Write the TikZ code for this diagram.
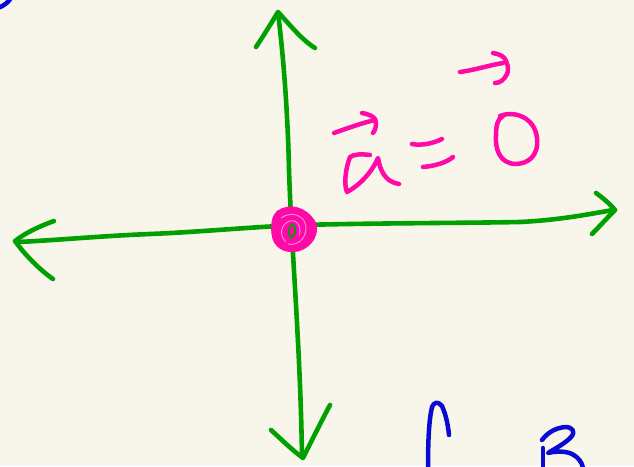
\documentclass[tikz,border=0pt]{standalone}
\definecolor{paper}{HTML}{F8F6EA}
\definecolor{pen green}{HTML}{00A000}
\definecolor{pen pink}{HTML}{FF0AA8}
\definecolor{pen blue}{HTML}{0A0AD2}
\tikzset{
  greenstroke/.style={draw=pen green,line width=4.6pt,line cap=round,line join=round},
  pinkstroke/.style={draw=pen pink,line width=4.5pt,line cap=round,line join=round},
  bluestroke/.style={draw=pen blue,line width=4.5pt,line cap=round,line join=round}
}
\begin{document}
\begin{tikzpicture}[x=1pt,y=-1pt]
\fill[paper] (0,0) rectangle (634,466);
\useasboundingbox (0,0) rectangle (634,466);
% vertical axis
\draw[greenstroke] (278,13) .. controls (284,60) and (288,120) .. (289,170) .. controls (292,260) and (300,340) .. (302,455);
\draw[greenstroke] (256,47) .. controls (264,35) and (272,22) .. (278,12) .. controls (290,25) and (302,40) .. (315,48);
\draw[greenstroke] (271,430) .. controls (282,440) and (292,450) .. (303,458) .. controls (312,440) and (322,420) .. (330,405);
% horizontal axis
\draw[greenstroke] (18,242) .. controls (60,240) and (100,236) .. (150,234) .. controls (200,232) and (250,227) .. (300,225) .. controls (380,223) and (470,223) .. (520,222) .. controls (560,220) and (590,214) .. (613,210);
\draw[greenstroke] (54,221) .. controls (40,226) and (25,233) .. (15,241) .. controls (25,255) and (40,270) .. (53,279);
\draw[greenstroke] (596,193) .. controls (603,198) and (610,204) .. (615,210) .. controls (607,218) and (598,228) .. (592,234);
% origin scribble
\filldraw[pen pink,line width=3pt,line join=round] (278,212) .. controls (290,204) and (305,208) .. (314,222) .. controls (319,232) and (312,246) .. (298,250) .. controls (285,253) and (274,246) .. (273,234) .. controls (272,225) and (273,216) .. (278,212) -- cycle;
\draw[draw=pen pink!45!white,line width=0.9pt] (281,218) .. controls (292,210) and (306,216) .. (306,228) .. controls (306,240) and (296,246) .. (288,244);
\draw[draw=pen pink!45!white,line width=0.9pt] (286,242) .. controls (279,236) and (280,224) .. (290,221) .. controls (298,219) and (302,228) .. (299,236);
\draw[draw=pen green,line width=1.6pt] (293,224) .. controls (288,226) and (287,234) .. (291,238) .. controls (295,236) and (297,228) .. (293,224);
% vector a
\draw[pinkstroke] (370,155) .. controls (362,154) and (354,154) .. (350,157) .. controls (345,170) and (344,185) .. (347,192) .. controls (360,185) and (372,172) .. (378,158) .. controls (380,170) and (385,182) .. (399,184);
\draw[pinkstroke] (334,133) .. controls (348,128) and (362,123) .. (375,120);
\draw[pinkstroke] (362,113) .. controls (368,114) and (373,116) .. (375,119) .. controls (377,124) and (376,129) .. (373,133);
% equals
\draw[pinkstroke] (412,144) .. controls (422,146) and (434,143) .. (442,139);
\draw[pinkstroke] (423,167) .. controls (434,166) and (446,163) .. (453,157);
% zero
\draw[pinkstroke] (500,116) .. controls (515,110) and (535,118) .. (537,138) .. controls (539,156) and (528,164) .. (515,164) .. controls (500,163) and (495,150) .. (496,135) .. controls (496,125) and (498,118) .. (503,116);
% arrow above zero
\draw[pinkstroke] (460,72) .. controls (475,70) and (490,65) .. (503,63);
\draw[pinkstroke] (493,53) .. controls (500,54) and (505,57) .. (506,61) .. controls (509,67) and (508,72) .. (507,74) .. controls (504,80) and (500,83) .. (495,83);
% blue marks
\draw[bluestroke] (-2,8) .. controls (3,6) and (8,3) .. (11,-2);
\draw[bluestroke] (428,468) .. controls (428,440) and (429,420) .. (432,407) .. controls (434,402) and (438,401) .. (442,406) .. controls (446,415) and (448,425) .. (449,435);
\draw[bluestroke] (542,440) .. controls (548,432) and (556,428) .. (565,427) .. controls (573,427) and (575,432) .. (572,436) .. controls (566,443) and (556,448) .. (548,453) .. controls (556,451) and (566,451) .. (572,454) .. controls (578,457) and (582,462) .. (583,468);
\draw[bluestroke] (543,448) -- (543,468);
\end{tikzpicture}
\end{document}
